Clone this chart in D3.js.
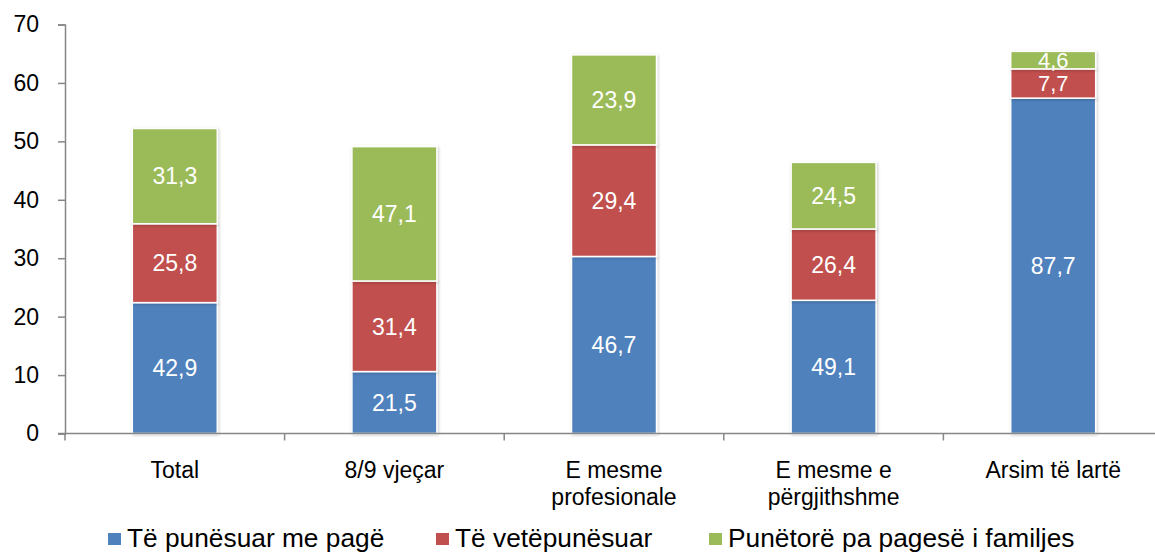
<!DOCTYPE html>
<html>
<head>
<meta charset="utf-8">
<script src="https://cdn.jsdelivr.net/npm/d3@7"></script>
<style>
  body { margin: 0; background: #fff; }
  text { font-family: "Liberation Sans", Arial, sans-serif; }
</style>
</head>
<body>
<div class="chart"></div>
<script>
// stacked bars: segment heights, labels are the shares shown inside
var categories = ["Total", "8/9 vjeçar", "E mesme\nprofesionale", "E mesme e\npërgjithshme", "Arsim të lartë"];
var seriesNames = ["Të punësuar me pagë", "Të vetëpunësuar", "Punëtorë pa pagesë i familjes"];
var colors = ["#4F81BD", "#C0504D", "#9BBB59"];

var paidValues = [22.4, 10.6, 30.3, 22.8, 57.4];
var selfValues = [13.5, 15.5, 19.1, 12.2, 5.0];
var familyValues = [16.3, 23.0, 15.4, 11.4, 3.0];

var paidLabels = ["42,9", "21,5", "46,7", "49,1", "87,7"];
var selfLabels = ["25,8", "31,4", "29,4", "26,4", "7,7"];
var familyLabels = ["31,3", "47,1", "23,9", "24,5", "4,6"];

var yTicks = [0, 10, 20, 30, 40, 50, 60, 70];

var svgWidth = 1155;
var svgHeight = 553;

var svg = d3.select(".chart")
    .append("svg")
    .attr("width", svgWidth)
    .attr("height", svgHeight);

var defs = svg.append("defs");
var shadow = defs.append("filter")
    .attr("id", "shadow")
    .attr("x", "-20%").attr("y", "-20%")
    .attr("width", "140%").attr("height", "140%");
shadow.append("feDropShadow")
    .attr("dx", 1).attr("dy", 1)
    .attr("stdDeviation", 1.6)
    .attr("flood-color", "#000")
    .attr("flood-opacity", 0.22);

var xScale = d3.scaleBand()
    .domain(categories)
    .range([65, 1163])
    .paddingInner(0.613)
    .paddingOuter(0.3065);

var yScale = d3.scaleLinear()
    .domain([0, 70])
    .range([433.5, 24.5]);

// build stack rows
var rows = categories.map(function(c, i) {
    return { cat: c, paid: paidValues[i], self: selfValues[i], family: familyValues[i],
             labels: [paidLabels[i], selfLabels[i], familyLabels[i]] };
});
var keys = ["paid", "self", "family"];
var stacked = d3.stack().keys(keys)(rows);

var chart = svg.append("g");

stacked.forEach(function(layer, k) {
    var g = chart.append("g");
    g.selectAll("rect")
        .data(layer)
        .enter()
        .append("rect")
        .attr("x", function(d) { return xScale(d.data.cat); })
        .attr("y", function(d) { return yScale(d[1]); })
        .attr("width", xScale.bandwidth())
        .attr("height", function(d) { return yScale(d[0]) - yScale(d[1]); })
        .attr("fill", colors[k])
        .attr("stroke", "#fff")
        .attr("stroke-width", 1.5)
        .attr("filter", "url(#shadow)");
});

stacked.forEach(function(layer, k) {
    chart.append("g").selectAll("text")
        .data(layer)
        .enter()
        .append("text")
        .attr("x", function(d) { return xScale(d.data.cat) + xScale.bandwidth() / 2; })
        .attr("y", function(d) { return (yScale(d[0]) + yScale(d[1])) / 2; })
        .attr("dy", "0.36em")
        .attr("text-anchor", "middle")
        .attr("fill", "#fff")
        .style("font-size", function(d) { return (d[1] - d[0]) < 6 ? "22px" : "23px"; })
        .text(function(d) { return d.data.labels[k]; });
});

// y axis
var leftAxis = d3.axisLeft(yScale)
    .tickValues(yTicks)
    .tickSize(7)
    .tickPadding(19);
var yAxisG = svg.append("g")
    .attr("transform", "translate(65,0)")
    .call(leftAxis);
yAxisG.select(".domain").attr("stroke", "#868686").attr("stroke-width", 1.5);
yAxisG.selectAll(".tick line").attr("stroke", "#868686").attr("stroke-width", 1.5);
yAxisG.selectAll(".tick text")
    .attr("fill", "#000")
    .style("font-size", "23px")
    .style("font-family", "'Liberation Sans', Arial, sans-serif");

// x axis line + boundary ticks between categories
var xAxisG = svg.append("g");
xAxisG.append("line")
    .attr("x1", 58).attr("x2", 1163)
    .attr("y1", yScale(0)).attr("y2", yScale(0))
    .attr("stroke", "#868686").attr("stroke-width", 1.5);
xAxisG.selectAll("line.tick")
    .data(d3.range(categories.length + 1))
    .enter()
    .append("line")
    .attr("class", "tick")
    .attr("x1", function(i) { return 65 + i * xScale.step(); })
    .attr("x2", function(i) { return 65 + i * xScale.step(); })
    .attr("y1", yScale(0))
    .attr("y2", yScale(0) + 7)
    .attr("stroke", "#868686").attr("stroke-width", 1.5);

// category labels (multi-line)
var catLabels = svg.append("g").selectAll("text")
    .data(categories)
    .enter()
    .append("text")
    .attr("text-anchor", "middle")
    .attr("x", function(d) { return xScale(d) + xScale.bandwidth() / 2; })
    .attr("y", 478)
    .style("font-size", "23px")
    .attr("fill", "#000");
catLabels.each(function(d) {
    var t = d3.select(this);
    var x = t.attr("x");
    d.split("\n").forEach(function(line, j) {
        t.append("tspan")
            .attr("x", x)
            .attr("dy", j === 0 ? 0 : 27)
            .text(line);
    });
});

// legend
var legendX = [108, 436, 709];
var legend = svg.append("g").selectAll("g")
    .data(seriesNames)
    .enter()
    .append("g")
    .attr("transform", function(d, i) { return "translate(" + legendX[i] + ",547)"; });
legend.append("rect")
    .attr("x", 0).attr("y", -14)
    .attr("width", 13).attr("height", 12)
    .attr("fill", function(d, i) { return colors[i]; });
legend.append("text")
    .attr("x", 19)
    .attr("y", 0)
    .style("font-size", "26.3px")
    .attr("fill", "#000")
    .text(function(d) { return d; });
</script>
</body>
</html>
